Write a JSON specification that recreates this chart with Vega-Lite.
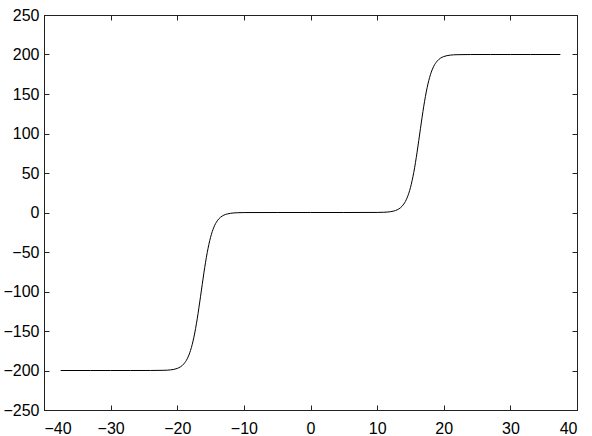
{
  "$schema": "https://vega.github.io/schema/vega-lite/v6.json",
  "width": 533,
  "height": 395,
  "autosize": {"type": "none"},
  "padding": {"left": 44, "top": 15, "right": 15, "bottom": 26},
  "background": "white",
  "config": {
    "view": {"stroke": "#222", "strokeWidth": 1},
    "axis": {
      "grid": false,
      "labelFont": "Liberation Sans",
      "labelFontSize": 16,
      "labelColor": "black",
      "domainColor": "#222",
      "tickColor": "#222",
      "tickSize": -5,
      "title": null
    }
  },
  "data": {
    "values": [
      {"x": -37.5, "y": -200}, {"x": -33, "y": -200}, {"x": -30, "y": -200}, {"x": -27, "y": -200},
      {"x": -24, "y": -199.98}, {"x": -22, "y": -199.76}, {"x": -21, "y": -199.2}, {"x": -20, "y": -197.38},
      {"x": -19.5, "y": -195.27}, {"x": -19, "y": -191.54}, {"x": -18.5, "y": -185.11}, {"x": -18, "y": -174.43},
      {"x": -17.5, "y": -157.84}, {"x": -17, "y": -134.52}, {"x": -16.5, "y": -105.99}, {"x": -16, "y": -76.45},
      {"x": -15.5, "y": -50.7}, {"x": -15, "y": -31.42}, {"x": -14.5, "y": -18.56}, {"x": -14, "y": -10.63},
      {"x": -13.5, "y": -5.98}, {"x": -13, "y": -3.33}, {"x": -12.5, "y": -1.84}, {"x": -12, "y": -1.01},
      {"x": -11, "y": -0.31}, {"x": -10, "y": -0.09}, {"x": -5, "y": 0}, {"x": 0, "y": 0}, {"x": 5, "y": 0},
      {"x": 10, "y": 0.09}, {"x": 11, "y": 0.31}, {"x": 12, "y": 1.01}, {"x": 12.5, "y": 1.84},
      {"x": 13, "y": 3.33}, {"x": 13.5, "y": 5.98}, {"x": 14, "y": 10.63}, {"x": 14.5, "y": 18.56},
      {"x": 15, "y": 31.42}, {"x": 15.5, "y": 50.7}, {"x": 16, "y": 76.45}, {"x": 16.5, "y": 105.99},
      {"x": 17, "y": 134.52}, {"x": 17.5, "y": 157.84}, {"x": 18, "y": 174.43}, {"x": 18.5, "y": 185.11},
      {"x": 19, "y": 191.54}, {"x": 19.5, "y": 195.27}, {"x": 20, "y": 197.38}, {"x": 21, "y": 199.2},
      {"x": 22, "y": 199.76}, {"x": 24, "y": 199.98}, {"x": 27, "y": 200}, {"x": 30, "y": 200},
      {"x": 33, "y": 200}, {"x": 37.5, "y": 200}
    ]
  },
  "layer": [
    {
      "mark": {"type": "line", "color": "black", "strokeWidth": 1, "interpolate": "monotone"},
      "encoding": {
        "x": {"field": "x", "type": "quantitative", "scale": {"domain": [-40, 40], "nice": false, "zero": false},
              "axis": {"orient": "bottom", "values": [-40, -30, -20, -10, 0, 10, 20, 30, 40], "labelPadding": 15}},
        "y": {"field": "y", "type": "quantitative", "scale": {"domain": [-250, 250], "nice": false, "zero": false},
              "axis": {"orient": "left", "values": [-250, -200, -150, -100, -50, 0, 50, 100, 150, 200, 250], "labelPadding": 10}}
      }
    },
    {
      "mark": {"type": "line", "strokeOpacity": 0},
      "encoding": {
        "x": {"field": "x", "type": "quantitative",
              "axis": {"orient": "top", "labels": false, "values": [-40, -30, -20, -10, 0, 10, 20, 30, 40]}},
        "y": {"field": "y", "type": "quantitative",
              "axis": {"orient": "right", "labels": false, "values": [-250, -200, -150, -100, -50, 0, 50, 100, 150, 200, 250]}}
      }
    }
  ],
  "resolve": {"axis": {"x": "independent", "y": "independent"}}
}
